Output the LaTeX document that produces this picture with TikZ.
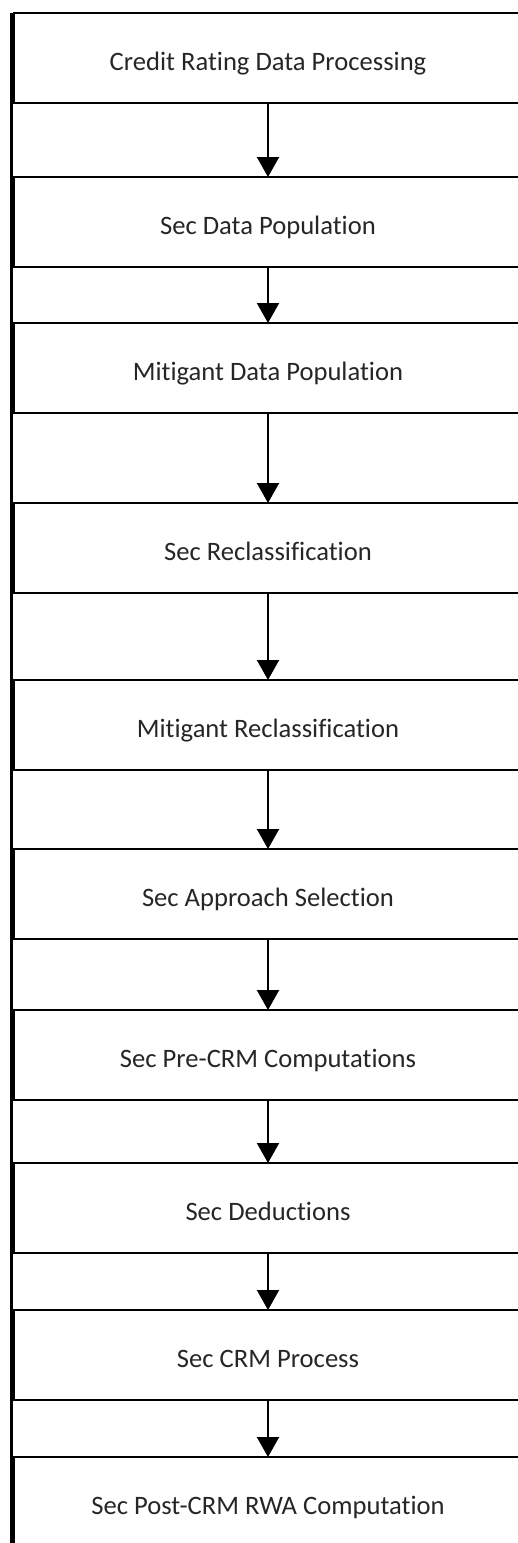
\documentclass[tikz,border=0pt]{standalone}
\usepackage{fontspec}
\setmainfont[Ligatures=NoCommon]{Carlito}
\usetikzlibrary{arrows.meta}

\begin{document}
\begin{tikzpicture}[
    x=1pt, y=-1pt,
    >={Triangle[width=22pt,length=20pt]},
    every node/.style={font=\fontsize{26.6}{30}\selectfont, text=black!85},
    stagebox/.style={draw, line width=2pt, anchor=north west, outer sep=0pt,
        minimum width=509pt, minimum height=90pt, inner sep=0pt,
        text height=25pt, text depth=0pt},
    flow/.style={->, line width=2pt}
]

\useasboundingbox (0,0) rectangle (518,1543);
\clip (0,0) rectangle (518,1543);

% Stage boxes (they run off the right edge)
\node[stagebox] (crd) at (13.5,13)   {Credit Rating Data Processing};
\node[stagebox] (sdp) at (13.5,177)  {Sec Data Population};
\node[stagebox] (mdp) at (13.5,323)  {Mitigant Data Population};
\node[stagebox] (src) at (13.5,503)  {Sec Reclassification};
\node[stagebox] (mrc) at (13.5,680)  {Mitigant Reclassification};
\node[stagebox] (sas) at (13.5,849)  {Sec Approach Selection};
\node[stagebox] (pre) at (13.5,1010) {Sec Pre-CRM Computations};
\node[stagebox] (ded) at (13.5,1163) {Sec Deductions};
\node[stagebox] (crm) at (13.5,1310) {Sec CRM Process};
\node[stagebox] (rwa) at (13.5,1457) {Sec Post-CRM RWA Computation};

% Left rail down the whole page
\coordinate (railend) at (11.5,1550);
\draw[line width=3pt] (crd.north west -| railend) -- (railend);

% Flow arrows
\draw[flow] (crd) -- (sdp);
\draw[flow] (sdp) -- (mdp);
\draw[flow] (mdp) -- (src);
\draw[flow] (src) -- (mrc);
\draw[flow] (mrc) -- (sas);
\draw[flow] (sas) -- (pre);
\draw[flow] (pre) -- (ded);
\draw[flow] (ded) -- (crm);
\draw[flow] (crm) -- (rwa);

\end{tikzpicture}
\end{document}
